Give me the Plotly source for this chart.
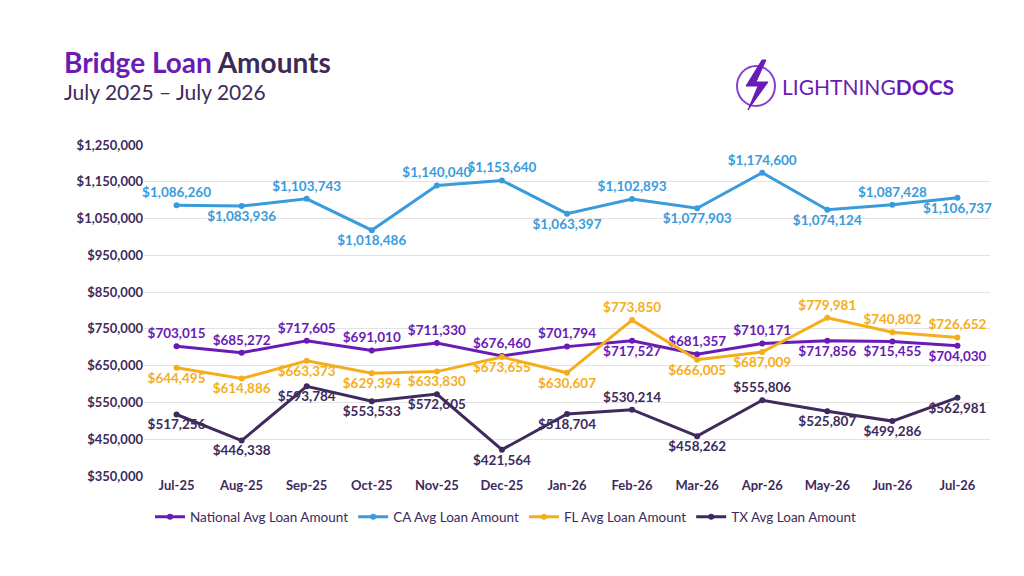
import plotly.graph_objects as go

months = ["Jul-25", "Aug-25", "Sep-25", "Oct-25", "Nov-25", "Dec-25", "Jan-26",
          "Feb-26", "Mar-26", "Apr-26", "May-26", "Jun-26", "Jul-26"]
national = [703015, 685272, 717605, 691010, 711330, 676460, 701794,
            717527, 681357, 710171, 717856, 715455, 704030]
ca = [1086260, 1083936, 1103743, 1018486, 1140040, 1153640, 1063397,
      1102893, 1077903, 1174600, 1074124, 1087428, 1106737]
fl = [644495, 614886, 663373, 629394, 633830, 673655, 630607,
      773850, 666005, 687009, 779981, 740802, 726652]
tx = [517256, 446338, 593784, 553533, 572605, 421564, 518704,
      530214, 458262, 555806, 525807, 499286, 562981]

series = [
    ("National Avg Loan Amount", national, "#6A1BB5",
     ["top center"] * 7 + ["bottom center", "top center", "top center",
                           "bottom center", "bottom center", "bottom center"]),
    ("CA Avg Loan Amount", ca, "#3A9BDC",
     ["top center", "bottom center", "top center", "bottom center", "top center",
      "top center", "bottom center", "top center", "bottom center", "top center",
      "bottom center", "top center", "bottom center"]),
    ("FL Avg Loan Amount", fl, "#F5AE1B",
     ["bottom center"] * 7 + ["top center", "bottom center", "bottom center",
                              "top center", "top center", "top center"]),
    ("TX Avg Loan Amount", tx, "#3E2A5C",
     ["bottom center"] * 7 + ["top center", "bottom center", "top center",
                              "bottom center", "bottom center", "bottom center"]),
]

# plot area in pixels
OFF = 8
L, R, T, B = 144 - OFF, 34 + OFF, 145 - OFF, 100 + OFF
W, H = 1024 - L - R, 576 - T - B


def px(x, y):
    return (x - OFF - L) / W, (576 - B - (y - OFF)) / H


fig = go.Figure()
for name, vals, color, pos in series:
    fig.add_trace(go.Scatter(
        x=months, y=vals, name=name, mode="lines+markers+text",
        line=dict(color=color, width=3), marker=dict(size=6, color=color),
        text=[f"${v:,}" for v in vals], textposition=pos,
        textfont=dict(color=color, size=13.5, family="Lato", weight="bold"),
        cliponaxis=False,
    ))

lx, ly = px(150, 517)
fig.update_layout(
    width=1024, height=576, plot_bgcolor="white", paper_bgcolor="white",
    margin=dict(l=L, r=R, t=T, b=B, autoexpand=False),
    font=dict(family="Lato", color="#3E2A5C"),
    xaxis=dict(showgrid=False, tickfont=dict(size=13, weight="bold"), ticks="",
               range=[-0.5, 12.5], automargin=False),
    yaxis=dict(range=[350000, 1250000], dtick=100000, tick0=350000,
               tickformat="$,.0f", gridcolor="#E3E3E3", zeroline=False,
               tickfont=dict(size=13, weight="bold"), automargin=False),
    legend=dict(orientation="h", x=lx, y=ly, xanchor="left", yanchor="middle",
                font=dict(size=13.5, color="#3E2A5C"), itemwidth=30,
                tracegroupgap=0),
    showlegend=True,
)

tx0, ty0 = px(62, 62)
fig.add_annotation(xref="paper", yref="paper", x=tx0, y=ty0,
                   xanchor="left", yanchor="middle", showarrow=False,
                   text="<b><span style='color:#6A1BB5'>Bridge Loan</span> Amounts</b>",
                   font=dict(size=28, color="#3D2B56", family="Lato"))
tx1, ty1 = px(62, 92)
fig.add_annotation(xref="paper", yref="paper", x=tx1, y=ty1,
                   xanchor="left", yanchor="middle", showarrow=False,
                   text="July 2025 – July 2026",
                   font=dict(size=21, color="#3D2B56", family="Lato"))

# logo: circle with lightning bolt
c0 = px(737, 106)
c1 = px(775, 66)
fig.add_shape(type="circle", xref="paper", yref="paper", layer="above",
              x0=c0[0], y0=c0[1], x1=c1[0], y1=c1[1],
              line=dict(color="#8A3FD1", width=2))
bolt = [(762, 60), (746, 86), (758, 86), (748, 110), (768, 82), (756, 82), (766, 60)]
pts = [px(a, b) for a, b in bolt]
path = "M " + " L ".join(f"{a:.4f},{b:.4f}" for a, b in pts) + " Z"
fig.add_shape(type="path", xref="paper", yref="paper", layer="above", path=path,
              fillcolor="#6A1BB5", line=dict(color="#6A1BB5", width=1))
tx2, ty2 = px(780, 87)
fig.add_annotation(xref="paper", yref="paper", x=tx2, y=ty2, xanchor="left",
                   yanchor="middle", showarrow=False,
                   text="LIGHTNING<b>DOCS</b>",
                   font=dict(size=21, color="#6A1BB5", family="Lato"))

fig.write_html("out.html")
